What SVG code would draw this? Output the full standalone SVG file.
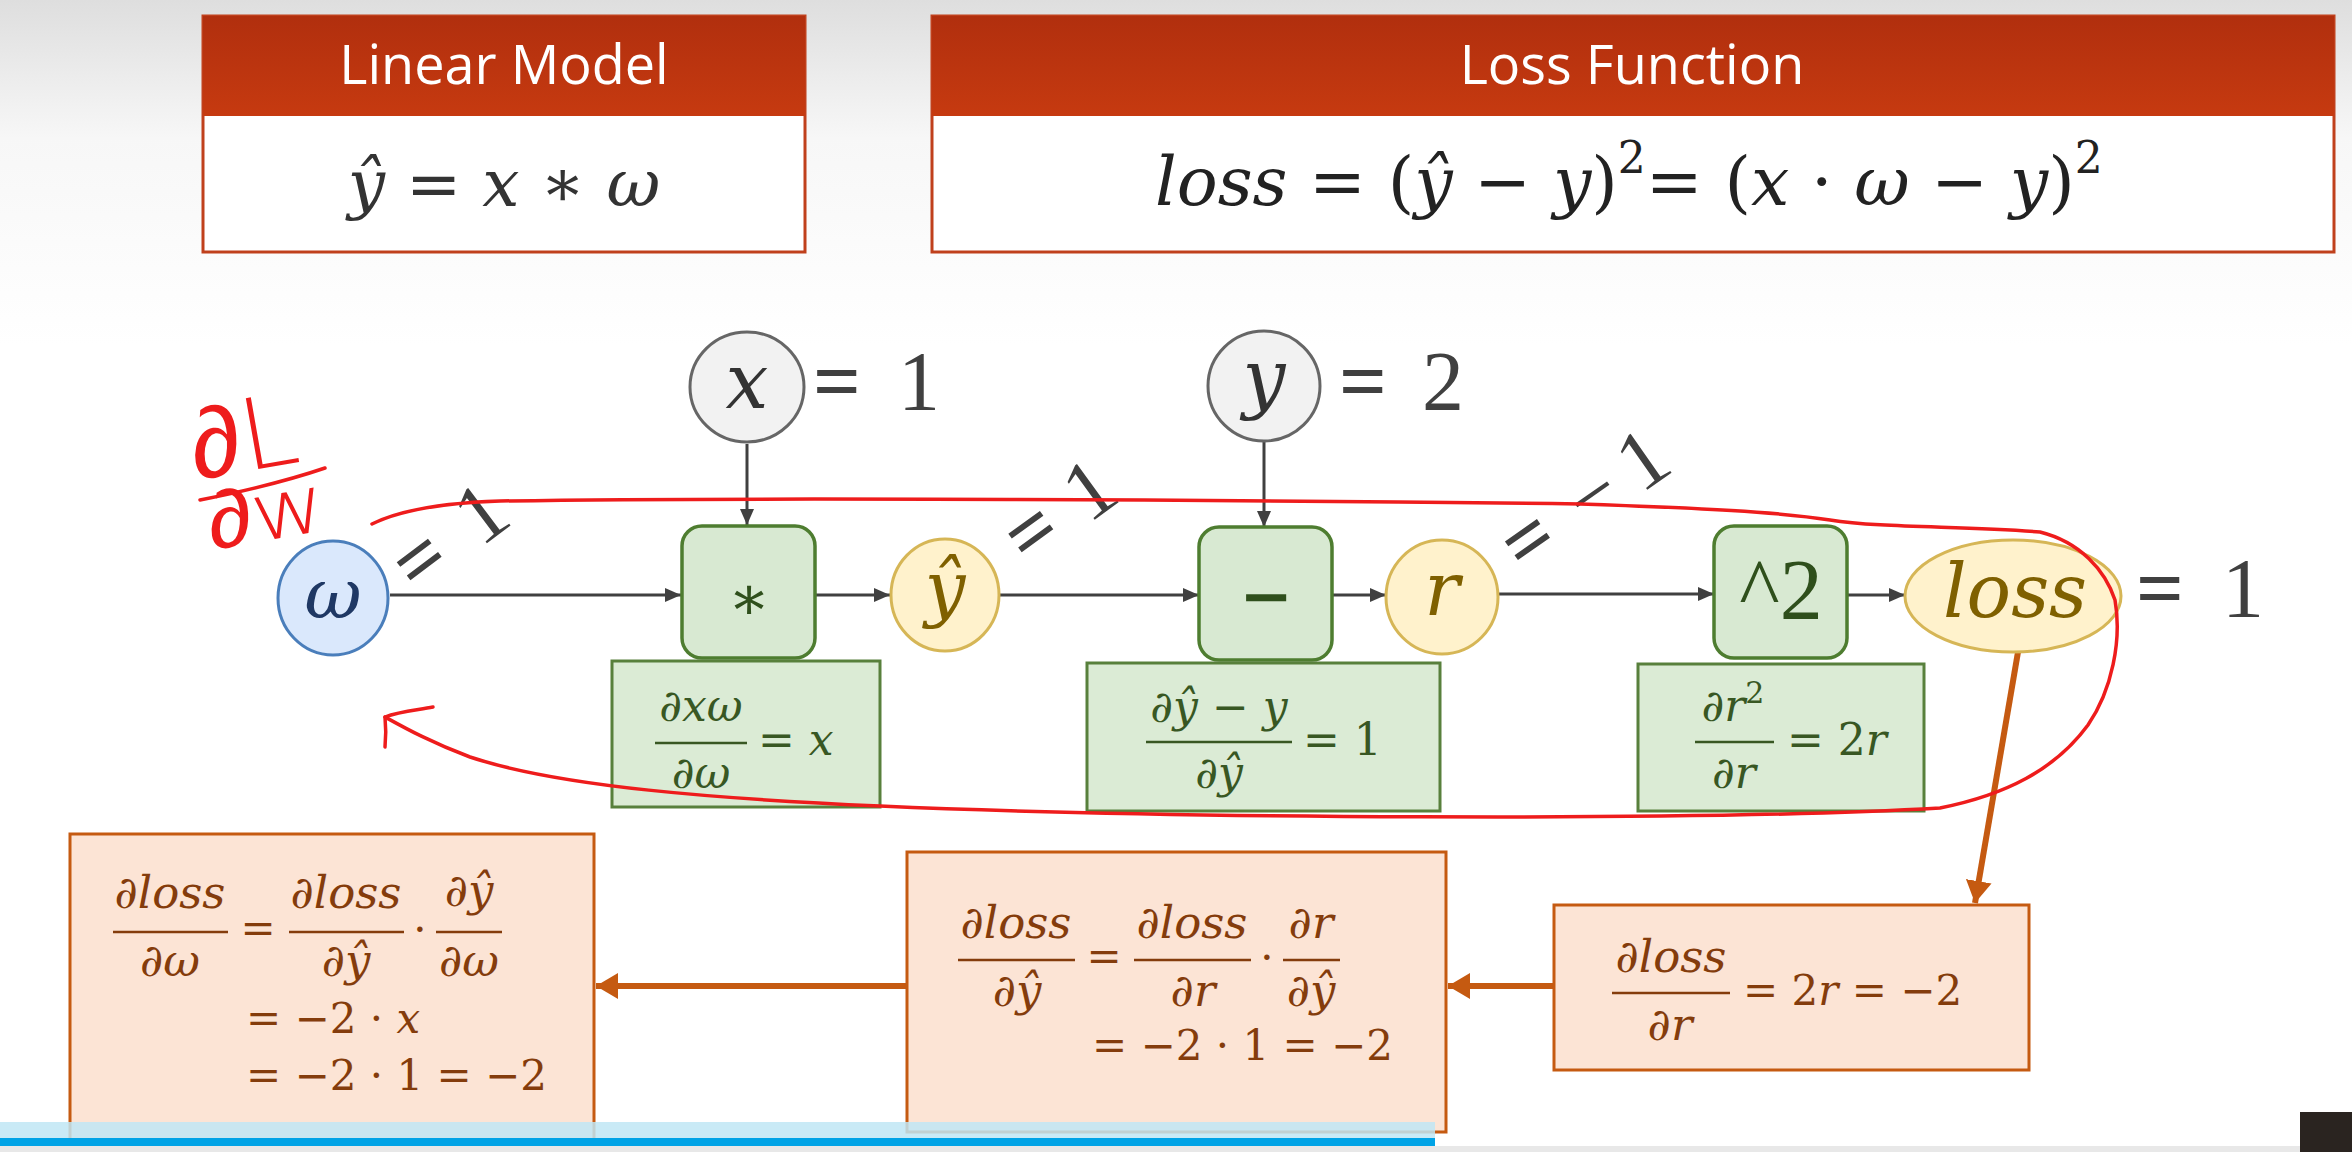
<svg xmlns="http://www.w3.org/2000/svg" width="2352" height="1152" viewBox="0 0 2352 1152">
<defs>
<linearGradient id="bg" x1="0" y1="0" x2="0" y2="1">
<stop offset="0" stop-color="#dedede"/><stop offset="0.12" stop-color="#f7f7f7"/><stop offset="0.3" stop-color="#ffffff"/><stop offset="1" stop-color="#ffffff"/>
</linearGradient>
<linearGradient id="hdr" x1="0" y1="0" x2="0" y2="1">
<stop offset="0" stop-color="#b12f0e"/><stop offset="1" stop-color="#c63a10"/>
</linearGradient>
<marker id="ag" markerUnits="userSpaceOnUse" markerWidth="16" markerHeight="14" refX="16" refY="7" orient="auto"><path d="M0,0 L16,7 L0,14 z" fill="#404040"/></marker>
<marker id="ao" markerUnits="userSpaceOnUse" markerWidth="22" markerHeight="26" refX="22" refY="13" orient="auto"><path d="M0,0 L22,13 L0,26 z" fill="#c55a11"/></marker>
<style>
.hdrt{font-family:"Open Sans","Noto Sans",sans-serif;font-size:54px;fill:#ffffff;text-anchor:middle}
.m{font-family:"DejaVu Serif","Liberation Serif",serif;}
.i{font-style:italic}
.val{font-family:"Liberation Serif","DejaVu Serif",serif;font-size:84px;fill:#404040}
.eq{font-weight:bold}
.gbox{fill:#dbebd5;stroke:#58803c;stroke-width:3}
.op{fill:#d8e9d2;stroke:#4e7d30;stroke-width:3.5}
.obox{fill:#fce4d5;stroke:#c55a11;stroke-width:3}
.gt{fill:#385723;font-size:44px}
.ot{fill:#843c0c;font-size:42px}
.of{fill:#843c0c;font-size:45px}
.gbar{stroke:#385723;stroke-width:2.5}
.obar{stroke:#843c0c;stroke-width:2.5}
.cg{stroke:#404040;stroke-width:3;fill:none;marker-end:url(#ag)}
.co{stroke:#c55a11;stroke-width:6;fill:none;marker-end:url(#ao)}
.red{stroke:#ee1c1c;stroke-width:3.5;fill:none;stroke-linecap:round;stroke-linejoin:round}
.hand{font-family:"DejaVu Sans",sans-serif;font-weight:200;fill:#ee1c1c}
</style>
</defs>
<rect x="0" y="0" width="2352" height="1152" fill="url(#bg)"/>

<!-- Top panels -->
<g id="linear-model">
<rect x="203" y="16" width="602" height="236" fill="#ffffff" stroke="#c0401c" stroke-width="3"/>
<rect x="203" y="16" width="602" height="100" fill="url(#hdr)"/>
<text class="hdrt" x="504" y="84">Linear Model</text>
<text class="m" x="504" y="206" font-size="66" fill="#333" text-anchor="middle"><tspan class="i">ŷ</tspan> = <tspan class="i">x</tspan> ∗ <tspan class="i">ω</tspan></text>
</g>
<g id="loss-function">
<rect x="932" y="16" width="1402" height="236" fill="#ffffff" stroke="#c0401c" stroke-width="3"/>
<rect x="932" y="16" width="1402" height="100" fill="url(#hdr)"/>
<text class="hdrt" x="1632" y="84">Loss Function</text>
<text class="m" x="1155" y="205" font-size="68" fill="#222"><tspan class="i">loss</tspan> = (<tspan class="i">ŷ</tspan> − <tspan class="i">y</tspan>)<tspan dy="-32" font-size="44">2</tspan><tspan dy="32">= (</tspan><tspan class="i">x</tspan> · <tspan class="i">ω</tspan> − <tspan class="i">y</tspan>)<tspan dy="-32" font-size="44">2</tspan></text>
</g>

<!-- Connectors -->
<g id="connectors">
<line class="cg" x1="390" y1="595" x2="681" y2="595"/>
<line class="cg" x1="816" y1="595" x2="890" y2="595"/>
<line class="cg" x1="1000" y1="595" x2="1199" y2="595"/>
<line class="cg" x1="1332" y1="595" x2="1386" y2="595"/>
<line class="cg" x1="1498" y1="594" x2="1714" y2="594"/>
<line class="cg" x1="1847" y1="595" x2="1905" y2="595"/>
<line class="cg" x1="747" y1="444" x2="747" y2="525"/>
<line class="cg" x1="1264" y1="441" x2="1264" y2="527"/>
<line class="co" x1="2018" y1="652" x2="1975" y2="903"/>
<line class="co" x1="1554" y1="986" x2="1448" y2="986"/>
<line class="co" x1="907" y1="986" x2="596" y2="986"/>
</g>

<!-- Graph nodes -->
<g id="node-w">
<ellipse cx="333" cy="598" rx="55" ry="57" fill="#dae8fc" stroke="#4a7ebb" stroke-width="3"/>
<text class="m i" x="333" y="618" font-size="70" fill="#1f3864" text-anchor="middle">ω</text>
<g transform="translate(417,596) rotate(-37)"><text class="val" x="0" y="0"><tspan class="eq">=</tspan><tspan x="80">1</tspan></text></g>
</g>
<g id="node-x">
<ellipse cx="747" cy="387" rx="57" ry="55" fill="#f2f2f2" stroke="#666666" stroke-width="3"/>
<text class="m i" x="747" y="408" font-size="76" fill="#333" text-anchor="middle">x</text>
<text class="val" x="813" y="410"><tspan class="eq">=</tspan><tspan x="898">1</tspan></text>
</g>
<g id="node-mul">
<rect class="op" x="682" y="526" width="133" height="132" rx="20"/>
<text class="m" x="749" y="619" font-size="62" fill="#2f4f1c" text-anchor="middle">∗</text>
</g>
<g id="node-yhat">
<ellipse cx="945" cy="595" rx="54" ry="56" fill="#fff2cc" stroke="#d6b656" stroke-width="3"/>
<text class="m i" x="945" y="613" font-size="72" fill="#7f6000" text-anchor="middle">ŷ</text>
<g transform="translate(1028,568) rotate(-36)"><text class="val" x="0" y="0"><tspan class="eq">=</tspan><tspan x="75">1</tspan></text></g>
</g>
<g id="node-y">
<ellipse cx="1264" cy="386" rx="56" ry="55" fill="#f2f2f2" stroke="#666666" stroke-width="3"/>
<text class="m i" x="1264" y="404" font-size="76" fill="#333" text-anchor="middle">y</text>
<text class="val" x="1339" y="410"><tspan class="eq">=</tspan><tspan x="1422">2</tspan></text>
</g>
<g id="node-sub">
<rect class="op" x="1199" y="527" width="133" height="133" rx="20"/>
<text class="m" x="1266" y="618" font-size="64" fill="#2f4f1c" text-anchor="middle" font-weight="bold">−</text>
</g>
<g id="node-r">
<ellipse cx="1442" cy="597" rx="56" ry="57" fill="#fff2cc" stroke="#d6b656" stroke-width="3"/>
<text class="m i" x="1442" y="615" font-size="74" fill="#7f6000" text-anchor="middle">r</text>
<g transform="translate(1524,576) rotate(-35)"><text class="val" x="0" y="0"><tspan class="eq">=</tspan><tspan x="79">−</tspan><tspan x="143">1</tspan></text></g>
</g>
<g id="node-sq">
<rect class="op" x="1714" y="526" width="133" height="132" rx="20"/>
<text x="1781" y="619" font-family="Liberation Serif, serif" font-size="86" fill="#2f4f1c" text-anchor="middle">^2</text>
</g>
<g id="node-loss">
<ellipse cx="2013" cy="596" rx="108" ry="56" fill="#fff2cc" stroke="#d6b656" stroke-width="3"/>
<text class="m i" x="2015" y="617" font-size="74" fill="#7f6000" text-anchor="middle">loss</text>
<text class="val" x="2136" y="617"><tspan class="eq">=</tspan><tspan x="2222">1</tspan></text>
</g>

<!-- Local derivative boxes -->
<g id="d-mul">
<rect class="gbox" x="612" y="661" width="268" height="146"/>
<text class="m i gt" x="701" y="721" text-anchor="middle">∂xω</text>
<line class="gbar" x1="655" y1="743" x2="747" y2="743"/>
<text class="m i gt" x="701" y="788" text-anchor="middle">∂ω</text>
<text class="m gt" x="758" y="755">= <tspan class="i">x</tspan></text>
</g>
<g id="d-sub">
<rect class="gbox" x="1087" y="663" width="353" height="148"/>
<text class="m gt" x="1219" y="722" text-anchor="middle"><tspan class="i">∂ŷ</tspan> − <tspan class="i">y</tspan></text>
<line class="gbar" x1="1146" y1="742" x2="1292" y2="742"/>
<text class="m i gt" x="1219" y="788" text-anchor="middle">∂ŷ</text>
<text class="m gt" x="1303" y="755">= 1</text>
</g>
<g id="d-sq">
<rect class="gbox" x="1638" y="664" width="286" height="147"/>
<text class="m gt" x="1733" y="721" text-anchor="middle"><tspan class="i">∂r</tspan><tspan dy="-18" font-size="30">2</tspan></text>
<line class="gbar" x1="1695" y1="742" x2="1774" y2="742"/>
<text class="m i gt" x="1734" y="788" text-anchor="middle">∂r</text>
<text class="m gt" x="1787" y="755">= 2<tspan class="i">r</tspan></text>
</g>

<!-- Chain rule boxes -->
<g id="g-r">
<rect class="obox" x="1554" y="905" width="475" height="165"/>
<text class="m i of" x="1671" y="972" text-anchor="middle">∂loss</text>
<line class="obar" x1="1612" y1="993" x2="1730" y2="993"/>
<text class="m i of" x="1670" y="1040" text-anchor="middle">∂r</text>
<text class="m ot" x="1743" y="1005">= 2<tspan class="i">r</tspan> = −2</text>
</g>
<g id="g-yhat">
<rect class="obox" x="907" y="852" width="539" height="280"/>
<text class="m i of" x="1016" y="938" text-anchor="middle">∂loss</text>
<line class="obar" x1="958" y1="960" x2="1075" y2="960"/>
<text class="m i of" x="1017" y="1006" text-anchor="middle">∂ŷ</text>
<text class="m ot" x="1104" y="971" text-anchor="middle">=</text>
<text class="m i of" x="1192" y="938" text-anchor="middle">∂loss</text>
<line class="obar" x1="1134" y1="960" x2="1251" y2="960"/>
<text class="m i of" x="1193" y="1006" text-anchor="middle">∂r</text>
<text class="m ot" x="1267" y="972" text-anchor="middle">·</text>
<text class="m i of" x="1311" y="938" text-anchor="middle">∂r</text>
<line class="obar" x1="1283" y1="960" x2="1340" y2="960"/>
<text class="m i of" x="1311" y="1006" text-anchor="middle">∂ŷ</text>
<text class="m ot" x="1092" y="1060">= −2 · 1 = −2</text>
</g>
<g id="g-w">
<rect class="obox" x="70" y="834" width="524" height="310"/>
<text class="m i of" x="170" y="908" text-anchor="middle">∂loss</text>
<line class="obar" x1="113" y1="932" x2="228" y2="932"/>
<text class="m i of" x="170" y="976" text-anchor="middle">∂ω</text>
<text class="m ot" x="258" y="943" text-anchor="middle">=</text>
<text class="m i of" x="346" y="908" text-anchor="middle">∂loss</text>
<line class="obar" x1="289" y1="932" x2="404" y2="932"/>
<text class="m i of" x="346" y="976" text-anchor="middle">∂ŷ</text>
<text class="m ot" x="420" y="944" text-anchor="middle">·</text>
<text class="m i of" x="469" y="906" text-anchor="middle">∂ŷ</text>
<line class="obar" x1="436" y1="932" x2="502" y2="932"/>
<text class="m i of" x="469" y="976" text-anchor="middle">∂ω</text>
<text class="m ot" x="246" y="1033">= −2 · <tspan class="i">x</tspan></text>
<text class="m ot" x="246" y="1090">= −2 · 1 = −2</text>
</g>

<!-- Red hand annotations -->
<g id="annotation">
<text class="hand" x="0" y="0" font-size="76" transform="translate(196,480) rotate(-10) scale(1.35,1.3)">∂L</text>
<path class="red" d="M200,500 C240,492 290,480 325,468"/>
<text class="hand" x="0" y="0" font-size="70" transform="translate(212,550) rotate(-10) scale(1.3,1.15)">∂w</text>
<path class="red" d="M372,524 C400,510 440,503 500,501 C750,497 1250,500 1580,504 C1700,508 1780,512 1830,520 C1880,528 1960,526 2040,532 C2080,542 2105,570 2115,600 C2122,640 2112,690 2088,725 C2055,770 2005,795 1940,808 C1700,822 1150,818 880,806 C720,799 560,787 470,757 C430,742 405,728 385,717"/>
<path class="red" d="M385,717 C400,711 418,710 433,707 M385,717 C386,727 386,737 385,747"/>
</g>

<!-- Video player bar -->
<g id="player-bar">
<rect x="0" y="1122" width="1435" height="16" fill="#bfe6f5" opacity="0.85"/>
<rect x="0" y="1138" width="1435" height="8" fill="#00a3e6"/>
<rect x="0" y="1146" width="2352" height="6" fill="#e8e8e8"/>
<rect x="2300" y="1112" width="52" height="40" fill="#2a2420"/>
</g>
</svg>
